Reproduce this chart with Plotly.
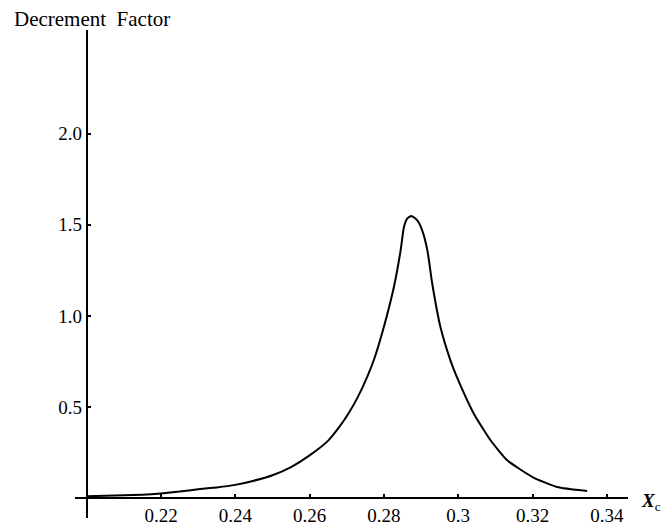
import plotly.graph_objects as go

# Data
xc = [0.200, 0.205, 0.210, 0.215, 0.220, 0.225, 0.230, 0.235, 0.240, 0.245,
      0.250, 0.255, 0.260, 0.265, 0.268, 0.2705, 0.273, 0.2755, 0.2775, 0.280,
      0.2827, 0.2845, 0.2854, 0.2863, 0.2874, 0.289, 0.2903, 0.2917, 0.293,
      0.2952, 0.2979, 0.300, 0.3042, 0.3087, 0.3132, 0.320, 0.3266, 0.3347]
decrement = [0.010, 0.012, 0.015, 0.018, 0.025, 0.035, 0.048, 0.058, 0.072, 0.095,
             0.125, 0.170, 0.234, 0.315, 0.390, 0.465, 0.555, 0.665, 0.770, 0.940,
             1.160, 1.360, 1.489, 1.535, 1.549, 1.525, 1.470, 1.360, 1.178,
             0.940, 0.756, 0.647, 0.463, 0.317, 0.207, 0.115, 0.060, 0.038]

x_tickvals = [0.22, 0.24, 0.26, 0.28, 0.30, 0.32, 0.34]
x_ticktext = ["0.22", "0.24", "0.26", "0.28", "0.3", "0.32", "0.34"]
y_tickvals = [0.5, 1.0, 1.5, 2.0]
y_ticktext = ["0.5", "1.0", "1.5", "2.0"]

x_range = [0.19685, 0.3457]
y_range = [-0.11, 2.57]
x_origin = 0.2
y_origin = 0.0

FONT = "Liberation Serif, Times New Roman, serif"

fig = go.Figure()
fig.add_trace(go.Scatter(x=xc, y=decrement, mode="lines",
                         line=dict(color="black", width=2, shape="spline", smoothing=0.5),
                         showlegend=False, hoverinfo="skip"))

xpos = (y_origin - y_range[0]) / (y_range[1] - y_range[0])
ypos = (x_origin - x_range[0]) / (x_range[1] - x_range[0])

fig.update_layout(
    width=666, height=527,
    margin=dict(l=75, r=38, t=30, b=9, autoexpand=False),
    paper_bgcolor="white", plot_bgcolor="white",
    font=dict(family=FONT, color="black", size=19),
    xaxis=dict(range=x_range, showgrid=False, zeroline=False, automargin=False,
               showline=True, linecolor="black", linewidth=1.6,
               ticks="inside", ticklen=3, tickwidth=1.5, tickcolor="black",
               tickvals=x_tickvals, ticktext=x_ticktext,
               tickfont=dict(family=FONT, size=19, color="black"),
               anchor="free", position=xpos),
    yaxis=dict(range=y_range, showgrid=False, zeroline=False, automargin=False,
               showline=True, linecolor="black", linewidth=2,
               ticks="inside", ticklen=3, tickwidth=1.5, tickcolor="black",
               tickvals=y_tickvals, ticktext=y_ticktext,
               tickfont=dict(family=FONT, size=19, color="black"),
               anchor="free", position=ypos),
)

fig.add_annotation(text="Decrement  Factor", xref="paper", yref="paper",
                   x=-0.114, y=1.0225, xanchor="left", yanchor="middle",
                   showarrow=False, font=dict(family=FONT, size=21, color="black"))
fig.add_annotation(text="<b><i>X</i></b><sub>c</sub>", xref="paper", yref="paper",
                   x=1.02, y=0.033, xanchor="left", yanchor="middle",
                   showarrow=False, font=dict(family=FONT, size=19, color="black"))

fig.write_html("out.html",
               config={"displayModeBar": False},
               post_script="document.body.style.margin='0';document.body.style.overflow='hidden';")
